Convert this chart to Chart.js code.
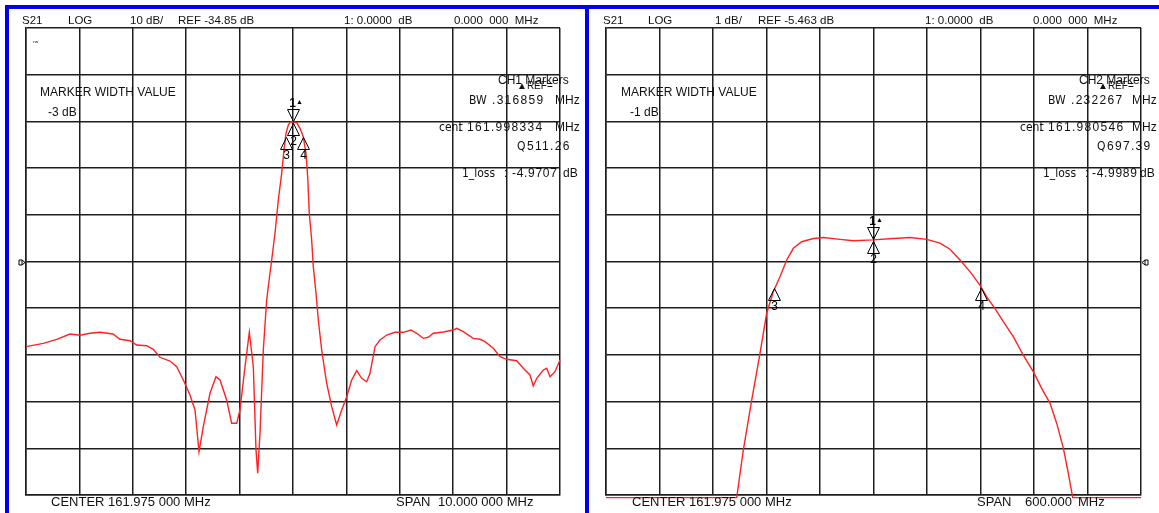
<!DOCTYPE html>
<html>
<head>
<meta charset="utf-8">
<script src="https://cdn.jsdelivr.net/npm/chart.js@4.4.1/dist/chart.umd.min.js"></script>
<style>
html, body { margin: 0; padding: 0; background: #fff; }
body { width: 1159px; height: 513px; position: relative; overflow: hidden;
       font-family: "Liberation Sans", Arial, sans-serif; color: #111; }
.pane { position: absolute; top: 0; height: 513px; }
.bar { position: absolute; background: #0000f0; z-index: 5; }
.t { position: absolute; white-space: pre; line-height: 1; }
.hd { font-size: 11.5px; }
.mk { font-size: 12px; }
.cm { font-size: 12px; }
.nw { font-size: 12px; font-family: "Liberation Sans Narrow", "Arial Narrow", "DejaVu Sans Condensed", sans-serif; }
.num { font-size: 12px; letter-spacing: 1.3px; }
.rf { font-size: 10px; }
.ft { font-size: 13px; }
.tiny { font-size: 7px; }
</style>
</head>
<body>
<div class="pane" style="left:0;width:588px"><canvas id="ch1"></canvas></div>
<div class="pane" style="left:590px;width:569px"><canvas id="ch2"></canvas></div>

<div class="bar" style="left:5px;top:5px;width:1154px;height:4px"></div>
<div class="bar" style="left:5px;top:5px;width:4px;height:508px"></div>
<div class="bar" style="left:585px;top:5px;width:4px;height:508px"></div>

<!-- channel 1 header -->
<div class="t hd" style="left:22px;top:15px">S21</div>
<div class="t hd" style="left:68px;top:15px">LOG</div>
<div class="t hd" style="left:130px;top:15px">10 dB/</div>
<div class="t hd" style="left:178px;top:15px">REF -34.85 dB</div>
<div class="t hd" style="left:344px;top:15px">1: 0.0000  dB</div>
<div class="t hd" style="left:454px;top:15px">0.000  000  MHz</div>
<div class="t tiny" style="left:33px;top:39px">ʳʷ</div>

<div class="t mk" style="left:40px;top:85.7px">MARKER WIDTH VALUE</div>
<div class="t mk" style="left:48px;top:105.5px">-3 dB</div>

<div class="t cm" style="left:498px;top:73.5px">CH1 Markers</div>
<div class="t rf" style="left:517px;top:81px">▲REF=</div>
<div class="t nw" style="left:469px;top:93.5px">BW</div>
<div class="t num" style="left:492px;top:93.5px">.316859</div>
<div class="t cm" style="left:555px;top:93.5px">MHz</div>
<div class="t nw" style="left:439px;top:120.5px">cent</div>
<div class="t cm" style="left:458px;top:120.5px">:</div>
<div class="t num" style="left:467px;top:120.5px">161.998334</div>
<div class="t cm" style="left:555px;top:120.5px">MHz</div>
<div class="t nw" style="left:517px;top:139.5px">Q</div>
<div class="t num" style="left:527px;top:139.5px">511.26</div>
<div class="t nw" style="left:462px;top:166.5px">1_loss</div>
<div class="t cm" style="left:504px;top:166.5px">:</div>
<div class="t num" style="left:512px;top:166.5px;letter-spacing:0.7px">-4.9707</div>
<div class="t cm" style="left:563px;top:166.5px">dB</div>

<div class="t ft" style="left:51px;top:495.3px">CENTER 161.975 000 MHz</div>
<div class="t ft" style="left:396px;top:495.3px">SPAN</div>
<div class="t ft" style="left:438px;top:495.3px">10.000 000 MHz</div>

<!-- channel 2 header -->
<div class="t hd" style="left:603px;top:15px">S21</div>
<div class="t hd" style="left:648px;top:15px">LOG</div>
<div class="t hd" style="left:715px;top:15px">1 dB/</div>
<div class="t hd" style="left:758px;top:15px">REF -5.463 dB</div>
<div class="t hd" style="left:925px;top:15px">1: 0.0000  dB</div>
<div class="t hd" style="left:1033px;top:15px">0.000  000  MHz</div>

<div class="t mk" style="left:621px;top:85.7px">MARKER WIDTH VALUE</div>
<div class="t mk" style="left:630px;top:105.5px">-1 dB</div>

<div class="t cm" style="left:1079px;top:73.5px">CH2 Markers</div>
<div class="t rf" style="left:1098px;top:81px">▲REF=</div>
<div class="t nw" style="left:1048px;top:93.5px">BW</div>
<div class="t num" style="left:1071px;top:93.5px">.232267</div>
<div class="t cm" style="left:1132px;top:93.5px">MHz</div>
<div class="t nw" style="left:1020px;top:120.5px">cent</div>
<div class="t cm" style="left:1039px;top:120.5px">:</div>
<div class="t num" style="left:1048px;top:120.5px">161.980546</div>
<div class="t cm" style="left:1132px;top:120.5px">MHz</div>
<div class="t nw" style="left:1097px;top:139.5px">Q</div>
<div class="t num" style="left:1107px;top:139.5px">697.39</div>
<div class="t nw" style="left:1043px;top:166.5px">1_loss</div>
<div class="t cm" style="left:1085px;top:166.5px">:</div>
<div class="t num" style="left:1092px;top:166.5px;letter-spacing:0.7px">-4.9989</div>
<div class="t cm" style="left:1140px;top:166.5px">dB</div>

<div class="t ft" style="left:632px;top:495.3px">CENTER 161.975 000 MHz</div>
<div class="t ft" style="left:977px;top:495.3px">SPAN</div>
<div class="t ft" style="left:1025px;top:495.3px">600.000</div>
<div class="t ft" style="left:1078px;top:495.3px">MHz</div>

<script>
// CH1: 10 dB/div, ref -34.85 dB, center 161.975 MHz, span 10 MHz
var ch1Freqs = [156.975, 157.299, 157.550, 157.799, 157.986, 158.174, 158.361, 158.604, 158.735, 158.923,
    159.048, 159.235, 159.359, 159.484, 159.672, 159.797, 159.921, 160.046, 160.140, 160.215,
    160.295, 160.421, 160.533, 160.608, 160.733, 160.827, 160.921, 160.982, 161.076, 161.157,
    161.232, 161.282, 161.314, 161.357, 161.419, 161.482, 161.512, 161.576, 161.638, 161.700,
    161.763, 161.806, 161.844, 161.887, 161.932, 161.994, 162.044, 162.106, 162.168, 162.218,
    162.250, 162.280, 162.325, 162.355, 162.406, 162.449, 162.512, 162.606, 162.700, 162.793,
    162.887, 162.981, 163.074, 163.168, 163.262, 163.355, 163.417, 163.511, 163.604, 163.730,
    163.885, 164.041, 164.185, 164.291, 164.415, 164.509, 164.602, 164.790, 164.977, 165.041,
    165.164, 165.351, 165.477, 165.571, 165.726, 165.851, 165.977, 166.164, 166.288, 166.413,
    166.475, 166.539, 166.662, 166.726, 166.788, 166.881, 166.975];
var ch1Levels = [-53.09, -52.37, -51.51, -50.37, -50.65, -50.22, -50.01, -50.37, -51.51, -51.81,
    -52.73, -52.88, -53.65, -55.36, -56.16, -57.38, -60.22, -63.44, -66.65, -75.58,
    -70.22, -63.07, -59.52, -60.22, -64.51, -69.50, -69.50, -66.65, -57.38, -50.01,
    -57.38, -75.21, -80.20, -71.64, -53.80, -43.09, -40.25, -34.53, -28.81, -21.68,
    -15.96, -10.97, -7.40, -5.62, -4.91, -4.97, -5.13, -6.33, -8.13, -11.68,
    -16.69, -24.53, -30.25, -35.96, -41.66, -47.38, -53.80, -60.93, -65.94, -69.86,
    -66.65, -63.80, -60.22, -58.23, -59.86, -60.59, -58.79, -53.09, -51.66, -50.59,
    -50.01, -50.01, -49.52, -50.22, -51.30, -51.08, -50.22, -49.95, -49.52, -49.15,
    -49.88, -51.30, -51.51, -52.02, -53.44, -55.24, -55.79, -56.09, -57.72, -59.15,
    -61.51, -59.86, -58.08, -57.72, -59.52, -58.45, -55.94];
var ch1FreqTicks = [156.975, 157.975, 158.975, 159.975, 160.975, 161.975, 162.975, 163.975, 164.975, 165.975, 166.975];
var ch1LevelTicks = [-84.85, -74.85, -64.85, -54.85, -44.85, -34.85, -24.85, -14.85, -4.85, 5.15, 15.15];
var ch1MarkerFreqs = [161.975, 161.975, 161.840, 162.157];
var ch1MarkerLevels = [-4.97, -4.97, -7.97, -7.97];
var ch1Ref = -34.85;

// CH2: 1 dB/div, ref -5.463 dB, center 161.975 MHz, span 0.6 MHz
var ch2Freqs = [161.675, 161.8216, 161.8290, 161.8384, 161.8477, 161.8552, 161.8626, 161.8701, 161.8777, 161.8851,
    161.8945, 161.9075, 161.9187, 161.9374, 161.9524, 161.9748, 161.9972, 162.0159, 162.0347, 162.0496,
    162.0608, 162.0720, 162.0832, 162.0944, 162.1020, 162.1113, 162.1206, 162.1318, 162.1430, 162.1542,
    162.1636, 162.1730, 162.1805, 162.1879, 162.1935, 162.1984, 162.275];
var ch2Levels = [-10.52, -10.52, -9.50, -8.43, -7.43, -6.57, -6.11, -5.79, -5.43, -5.18,
    -5.04, -4.97, -4.95, -4.99, -5.02, -5.00, -4.97, -4.95, -4.99, -5.07,
    -5.20, -5.43, -5.68, -5.97, -6.22, -6.47, -6.75, -7.07, -7.47, -7.82,
    -8.18, -8.50, -8.93, -9.46, -10.00, -10.52, -10.52];
var ch2FreqTicks = [161.675, 161.735, 161.795, 161.855, 161.915, 161.975, 162.035, 162.095, 162.155, 162.215, 162.275];
var ch2LevelTicks = [-10.463, -9.463, -8.463, -7.463, -6.463, -5.463, -4.463, -3.463, -2.463, -1.463, -0.463];
var ch2MarkerFreqs = [161.975, 161.975, 161.8636, 162.0958];
var ch2MarkerLevels = [-5.00, -5.00, -6.00, -6.00];
var ch2Ref = -5.463;

var gridColor = '#1e1e1e';
var traceColor = '#ff2222';

// draws the analyzer markers (1 = down triangle, 2..4 = up triangle) and the ref level arrow
var markerPlugin = {
    id: 'analyzerMarkers',
    afterDatasetsDraw: function (chart, args, opts) {
        var ctx = chart.ctx, x = chart.scales.x, y = chart.scales.y;
        ctx.save();
        ctx.strokeStyle = '#000';
        ctx.fillStyle = '#000';
        ctx.lineWidth = 1;
        ctx.textAlign = 'center';
        ctx.textBaseline = 'middle';
        for (var i = 0; i < opts.freqs.length; i++) {
            var px = Math.round(x.getPixelForValue(opts.freqs[i])) + 0.5;
            var py = Math.round(y.getPixelForValue(opts.levels[i])) + 0.5;
            ctx.beginPath();
            if (i === 0) {
                ctx.moveTo(px - 6, py - 13);
                ctx.lineTo(px + 6, py - 13);
                ctx.lineTo(px, py - 1);
                ctx.closePath();
                ctx.stroke();
                ctx.font = 'bold 12px "Liberation Sans", Arial, sans-serif';
                ctx.fillText('1', px - 1, py - 19);
                ctx.font = '7px "Liberation Sans", Arial, sans-serif';
                ctx.fillText('▲', px + 6, py - 20);
            } else {
                ctx.moveTo(px, py + 1);
                ctx.lineTo(px + 6, py + 13);
                ctx.lineTo(px - 6, py + 13);
                ctx.closePath();
                ctx.stroke();
                ctx.font = '12px "Liberation Sans", Arial, sans-serif';
                ctx.fillText(String(i + 1), px, py + 19);
            }
        }
        var ry = Math.round(y.getPixelForValue(opts.ref)) + 0.5;
        ctx.beginPath();
        if (opts.refSide === 'left') {
            var lx = chart.chartArea.left - 7;
            ctx.rect(lx, ry - 2.5, 3, 5);
            ctx.moveTo(lx + 3, ry - 2.5);
            ctx.lineTo(lx + 6, ry);
            ctx.lineTo(lx + 3, ry + 2.5);
        } else {
            var rx = chart.chartArea.right + 7;
            ctx.rect(rx - 3, ry - 2.5, 3, 5);
            ctx.moveTo(rx - 3, ry - 2.5);
            ctx.lineTo(rx - 6, ry);
            ctx.lineTo(rx - 3, ry + 2.5);
        }
        ctx.stroke();
        ctx.restore();
    }
};

function toPoints(xs, ys) {
    return xs.map(function (v, i) { return { x: v, y: ys[i] }; });
}

function makeAnalyzer(id, freqs, levels, fTicks, lTicks, mFreqs, mLevels, ref, refSide, pad) {
    var ctx = document.getElementById(id).getContext('2d');
    return new Chart(ctx, {
        type: 'line',
        data: {
            datasets: [{
                data: toPoints(freqs, levels),
                borderColor: traceColor,
                borderWidth: 1.4,
                pointRadius: 0,
                tension: 0,
                clip: { left: 2, top: 2, right: 2, bottom: 6 }
            }]
        },
        options: {
            responsive: true,
            maintainAspectRatio: false,
            animation: false,
            layout: { padding: pad },
            plugins: {
                legend: { display: false },
                tooltip: { enabled: false },
                analyzerMarkers: { freqs: mFreqs, levels: mLevels, ref: ref, refSide: refSide }
            },
            scales: {
                x: {
                    type: 'linear',
                    min: fTicks[0],
                    max: fTicks[fTicks.length - 1],
                    afterBuildTicks: function (s) { s.ticks = fTicks.map(function (v) { return { value: v }; }); },
                    afterFit: function (s) { s.height = 0; },
                    ticks: { display: false },
                    grid: { color: gridColor, lineWidth: 1.5, drawTicks: false },
                    border: { color: gridColor, width: 1.5 }
                },
                y: {
                    type: 'linear',
                    min: lTicks[0],
                    max: lTicks[lTicks.length - 1],
                    afterBuildTicks: function (s) { s.ticks = lTicks.map(function (v) { return { value: v }; }); },
                    afterFit: function (s) { s.width = 0; },
                    ticks: { display: false },
                    grid: { color: gridColor, lineWidth: 1.5, drawTicks: false },
                    border: { color: gridColor, width: 1.5 }
                }
            }
        },
        plugins: [markerPlugin]
    });
}

makeAnalyzer('ch1', ch1Freqs, ch1Levels, ch1FreqTicks, ch1LevelTicks, ch1MarkerFreqs, ch1MarkerLevels,
    ch1Ref, 'left', { left: 26, top: 28, right: 28, bottom: 18 });
makeAnalyzer('ch2', ch2Freqs, ch2Levels, ch2FreqTicks, ch2LevelTicks, ch2MarkerFreqs, ch2MarkerLevels,
    ch2Ref, 'right', { left: 16, top: 28, right: 18, bottom: 18 });
</script>
</body>
</html>
